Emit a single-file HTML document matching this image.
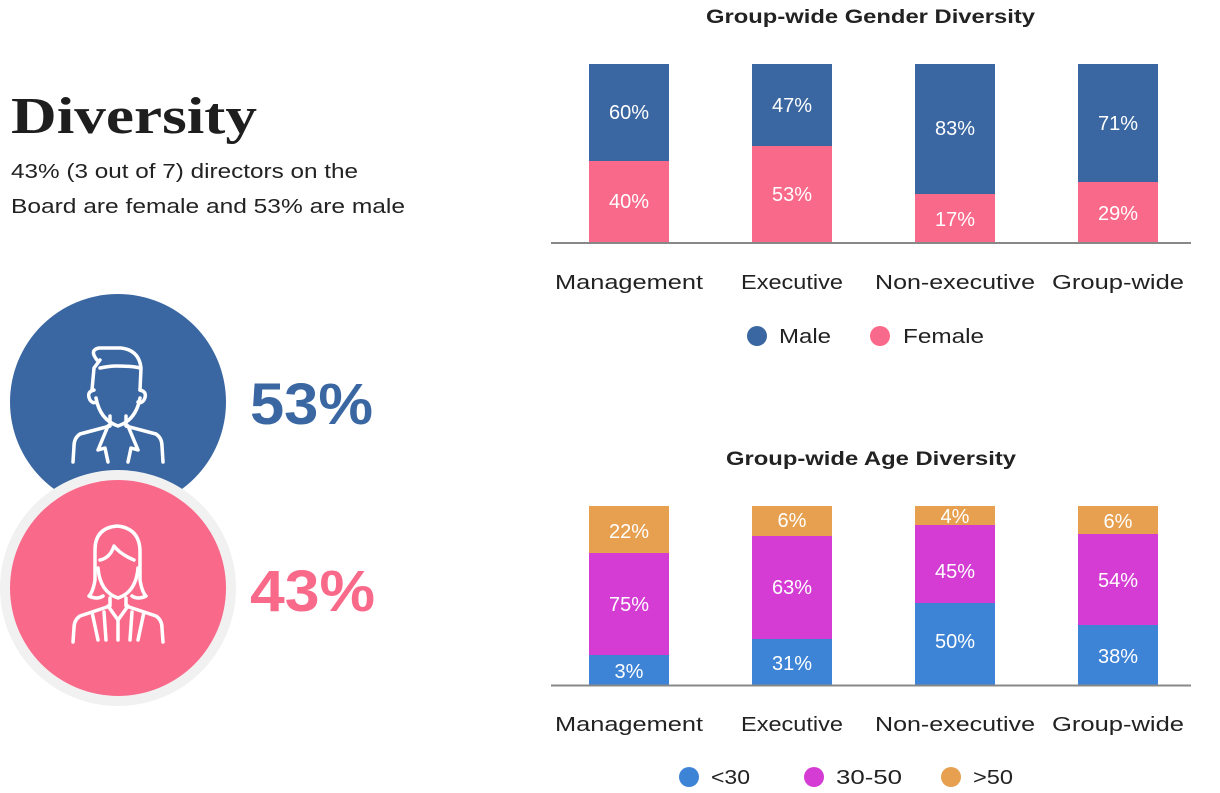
<!DOCTYPE html>
<html><head><meta charset="utf-8"><style>
body{margin:0;width:1220px;height:793px;background:#fff;overflow:hidden;font-family:"Liberation Sans",sans-serif}
svg{position:absolute;left:0;top:0}
</style></head><body>
<svg width="1220" height="793" viewBox="0 0 1220 793" font-family="Liberation Sans, sans-serif">
<text x="11" y="133" font-family="Liberation Serif, serif" font-weight="bold" font-size="52" fill="#1e1e1e" textLength="246" lengthAdjust="spacingAndGlyphs">Diversity</text>
<text x="11" y="178" font-size="20" fill="#222" textLength="347" lengthAdjust="spacingAndGlyphs">43% (3 out of 7) directors on the</text>
<text x="11" y="213" font-size="20" fill="#222" textLength="394" lengthAdjust="spacingAndGlyphs">Board are female and 53% are male</text>

<circle cx="118" cy="402" r="108" fill="#3a67a2"/>
<circle cx="118" cy="588" r="113" fill="#fff" stroke="#f1f1f1" stroke-width="10"/>
<circle cx="118" cy="588" r="108" fill="#f9698a"/>
<g fill="none" stroke="#fff" stroke-width="3.5" stroke-linecap="round" stroke-linejoin="round">
 <path d="M97 360 q-8 -10 2 -12 l22 0 q18 2 20 20 l-1 22 M100 360 l-6 8 l-2 22 M100 368 q10 -2 16 -2 q16 0 24 2"/>
 <path d="M94 390 q-8 2 -4 10 q3 4 6 2 M140 390 q8 2 4 10 q-3 4 -6 2"/>
 <path d="M96 398 q4 22 22 28 q18 -6 22 -28"/>
 <path d="M110 416 l0 10 l-30 8 q-6 4 -6 12 l-1 16 M126 416 l0 10 l30 8 q6 4 6 12 l1 16 M108 426 l-10 24 l7 -2 l3 14 M128 426 l10 24 l-7 -2 l-3 14"/>
 <path d="M95 550 q0 -22 22 -24 q22 2 23 24 l0 30 q2 12 6 16 q-8 4 -14 0 M95 550 l0 30 q-2 12 -6 16 q8 4 14 0 M100 560 q10 -2 14 -14 q6 8 20 14"/>
 <path d="M98 568 q2 24 20 30 q18 -6 20 -30"/>
 <path d="M110 598 l0 8 l-30 10 q-6 4 -6 12 l-1 14 M126 598 l0 8 l30 10 q6 4 6 12 l1 14 M92 612 l6 28 M144 612 l-6 28 M108 606 l10 14 l10 -14 M118 620 l0 20 M104 612 l2 28 M132 612 l-2 28"/>
</g>
<text x="250" y="424" font-size="58" font-weight="bold" fill="#3a67a2" textLength="123" lengthAdjust="spacingAndGlyphs">53%</text>
<text x="250" y="611" font-size="58" font-weight="bold" fill="#f9698a" textLength="125" lengthAdjust="spacingAndGlyphs">43%</text>

<g font-size="19" font-weight="bold" fill="#222">
<text x="706" y="23" textLength="329" lengthAdjust="spacingAndGlyphs">Group-wide Gender Diversity</text>
<text x="726" y="465" textLength="290" lengthAdjust="spacingAndGlyphs">Group-wide Age Diversity</text>
</g>

<g>
<rect x="589" y="64" width="80" height="97" fill="#3a67a2"/><rect x="589" y="161" width="80" height="82" fill="#f9698a"/>
<rect x="752" y="64" width="80" height="82" fill="#3a67a2"/><rect x="752" y="146" width="80" height="97" fill="#f9698a"/>
<rect x="915" y="64" width="80" height="130" fill="#3a67a2"/><rect x="915" y="194" width="80" height="49" fill="#f9698a"/>
<rect x="1078" y="64" width="80" height="118" fill="#3a67a2"/><rect x="1078" y="182" width="80" height="61" fill="#f9698a"/>
</g>
<line x1="551" y1="243" x2="1191" y2="243" stroke="#888" stroke-width="2"/>
<g font-size="20" fill="#fff" text-anchor="middle">
<text x="629" y="119">60%</text><text x="629" y="208">40%</text>
<text x="792" y="112">47%</text><text x="792" y="201">53%</text>
<text x="955" y="135">83%</text><text x="955" y="226">17%</text>
<text x="1118" y="130">71%</text><text x="1118" y="220">29%</text>
</g>
<g font-size="20" fill="#222">
<text x="555" y="289" textLength="148" lengthAdjust="spacingAndGlyphs">Management</text><text x="741" y="289" textLength="102" lengthAdjust="spacingAndGlyphs">Executive</text><text x="875" y="289" textLength="160" lengthAdjust="spacingAndGlyphs">Non-executive</text><text x="1052" y="289" textLength="132" lengthAdjust="spacingAndGlyphs">Group-wide</text>
</g>
<circle cx="757" cy="336" r="10" fill="#3a67a2"/><text x="779" y="343" font-size="20" fill="#222" textLength="52" lengthAdjust="spacingAndGlyphs">Male</text>
<circle cx="880" cy="336" r="10" fill="#f9698a"/><text x="903" y="343" font-size="20" fill="#222" textLength="81" lengthAdjust="spacingAndGlyphs">Female</text>

<g>
<rect x="589" y="506" width="80" height="47" fill="#e6a050"/><rect x="589" y="553" width="80" height="102" fill="#d43cd4"/><rect x="589" y="655" width="80" height="31" fill="#3e84d6"/>
<rect x="752" y="506" width="80" height="30" fill="#e6a050"/><rect x="752" y="536" width="80" height="103" fill="#d43cd4"/><rect x="752" y="639" width="80" height="47" fill="#3e84d6"/>
<rect x="915" y="506" width="80" height="19" fill="#e6a050"/><rect x="915" y="525" width="80" height="78" fill="#d43cd4"/><rect x="915" y="603" width="80" height="83" fill="#3e84d6"/>
<rect x="1078" y="506" width="80" height="28" fill="#e6a050"/><rect x="1078" y="534" width="80" height="91" fill="#d43cd4"/><rect x="1078" y="625" width="80" height="61" fill="#3e84d6"/>
</g>
<line x1="551" y1="685.5" x2="1191" y2="685.5" stroke="#888" stroke-width="2"/>
<g font-size="20" fill="#fff" text-anchor="middle">
<text x="629" y="538">22%</text><text x="629" y="611">75%</text><text x="629" y="678">3%</text>
<text x="792" y="527">6%</text><text x="792" y="594">63%</text><text x="792" y="670">31%</text>
<text x="955" y="523">4%</text><text x="955" y="578">45%</text><text x="955" y="648">50%</text>
<text x="1118" y="528">6%</text><text x="1118" y="587">54%</text><text x="1118" y="663">38%</text>
</g>
<g font-size="20" fill="#222">
<text x="555" y="731" textLength="148" lengthAdjust="spacingAndGlyphs">Management</text><text x="741" y="731" textLength="102" lengthAdjust="spacingAndGlyphs">Executive</text><text x="875" y="731" textLength="160" lengthAdjust="spacingAndGlyphs">Non-executive</text><text x="1052" y="731" textLength="132" lengthAdjust="spacingAndGlyphs">Group-wide</text>
</g>
<circle cx="689" cy="777" r="10" fill="#3e84d6"/><text x="711" y="784" font-size="20" fill="#222" textLength="39" lengthAdjust="spacingAndGlyphs">&lt;30</text>
<circle cx="814" cy="777" r="10" fill="#d43cd4"/><text x="836" y="784" font-size="20" fill="#222" textLength="66" lengthAdjust="spacingAndGlyphs">30-50</text>
<circle cx="951" cy="777" r="10" fill="#e6a050"/><text x="973" y="784" font-size="20" fill="#222" textLength="40" lengthAdjust="spacingAndGlyphs">&gt;50</text>
</svg>
</body></html>
